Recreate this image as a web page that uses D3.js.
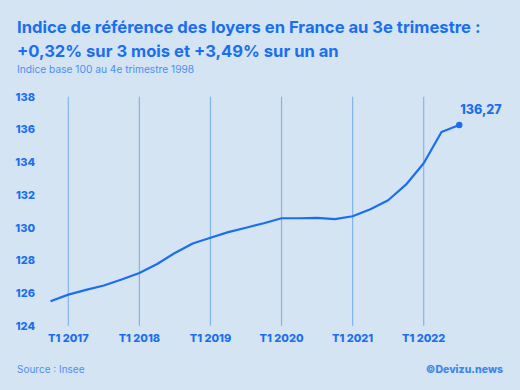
<!DOCTYPE html>
<html>
<head>
<meta charset="utf-8">
<script src="https://cdn.jsdelivr.net/npm/d3@7"></script>
<style>
  html, body { margin: 0; padding: 0; background: #d4e4f2; }
  svg { display: block; font-family: Inter, "Noto Sans", sans-serif; }
</style>
</head>
<body>
<div id="chart"></div>
<script>
// quarters from T4 2016 to T3 2022
const quarters = ['T4 2016',
  'T1 2017', 'T2 2017', 'T3 2017', 'T4 2017',
  'T1 2018', 'T2 2018', 'T3 2018', 'T4 2018',
  'T1 2019', 'T2 2019', 'T3 2019', 'T4 2019',
  'T1 2020', 'T2 2020', 'T3 2020', 'T4 2020',
  'T1 2021', 'T2 2021', 'T3 2021', 'T4 2021',
  'T1 2022', 'T2 2022', 'T3 2022']
const irl = [125.50,
  125.90, 126.19, 126.46, 126.82,
  127.22, 127.77, 128.45, 129.03,
  129.38, 129.72, 129.99, 130.26,
  130.57, 130.57, 130.59, 130.52,
  130.69, 131.12, 131.67, 132.62,
  133.93, 135.84, 136.27]
const xTicks = ['T1 2017', 'T1 2018', 'T1 2019', 'T1 2020', 'T1 2021', 'T1 2022']
const yTicks = [124, 126, 128, 130, 132, 134, 136, 138]

const width = 520, height = 390
const blue = '#1a6ef0'
const gridBlue = '#80b4f0'

const svg = d3.select('#chart').append('svg')
  .attr('width', width)
  .attr('height', height)

svg.append('rect').attr('width', width).attr('height', height).attr('fill', '#d4e4f2')

// titles
const title = svg.append('text')
  .attr('x', 17).attr('y', 33)
  .attr('fill', blue)
  .attr('font-size', 16.6)
  .attr('font-weight', 700)
title.append('tspan').attr('x', 17).text('Indice de référence des loyers en France au 3e trimestre :')
title.append('tspan').attr('x', 17).attr('dy', 23.5).text('+0,32% sur 3 mois et +3,49% sur un an')

svg.append('text')
  .attr('x', 17).attr('y', 73)
  .attr('fill', '#4d8ff0')
  .attr('font-size', 10.2)
  .text('Indice base 100 au 4e trimestre 1998')

const x = d3.scaleLinear()
  .domain([1, 21])
  .range([68.3, 423.7])
const y = d3.scaleLinear()
  .domain([124, 138])
  .range([325.7, 96.7])

// vertical grid lines at T1 of each year
svg.append('g').selectAll('line')
  .data(xTicks)
  .enter()
  .append('line')
  .attr('x1', d => x(quarters.indexOf(d)))
  .attr('x2', d => x(quarters.indexOf(d)))
  .attr('y1', y(138))
  .attr('y2', y(124))
  .attr('stroke', gridBlue)
  .attr('stroke-width', 1.2)

// y labels
svg.append('g').selectAll('text')
  .data(yTicks)
  .enter()
  .append('text')
  .attr('x', 35)
  .attr('y', d => y(d) + 4)
  .attr('text-anchor', 'end')
  .attr('fill', blue)
  .attr('font-size', 11)
  .attr('font-weight', 800)
  .text(d => d)

// x labels
svg.append('g').selectAll('text')
  .data(xTicks)
  .enter()
  .append('text')
  .attr('x', d => x(quarters.indexOf(d)))
  .attr('y', 342)
  .attr('text-anchor', 'middle')
  .attr('fill', blue)
  .attr('font-size', 11)
  .attr('font-weight', 800)
  .text(d => d)

// line
const line = d3.line()
  .x((d, i) => x(i))
  .y(d => y(d))
svg.append('path')
  .datum(irl)
  .attr('d', line)
  .attr('fill', 'none')
  .attr('stroke', blue)
  .attr('stroke-width', 2.2)
  .attr('stroke-linejoin', 'round')

const last = irl.length - 1
svg.append('circle')
  .attr('cx', x(last))
  .attr('cy', y(irl[last]))
  .attr('r', 3.2)
  .attr('fill', blue)
svg.append('text')
  .attr('x', x(last) + 1)
  .attr('y', y(irl[last]) - 11)
  .attr('fill', blue)
  .attr('font-size', 12.5)
  .attr('font-weight', 800)
  .text(d3.format('.2f')(irl[last]).replace('.', ','))

// footer
svg.append('text')
  .attr('x', 17).attr('y', 373)
  .attr('fill', '#4d8ff0')
  .attr('font-size', 10)
  .text('Source : Insee')
svg.append('text')
  .attr('x', 503).attr('y', 373)
  .attr('text-anchor', 'end')
  .attr('fill', '#3d85f0')
  .attr('font-size', 10.5)
  .attr('font-weight', 800)
  .text('©Devizu.news')
</script>
</body>
</html>
